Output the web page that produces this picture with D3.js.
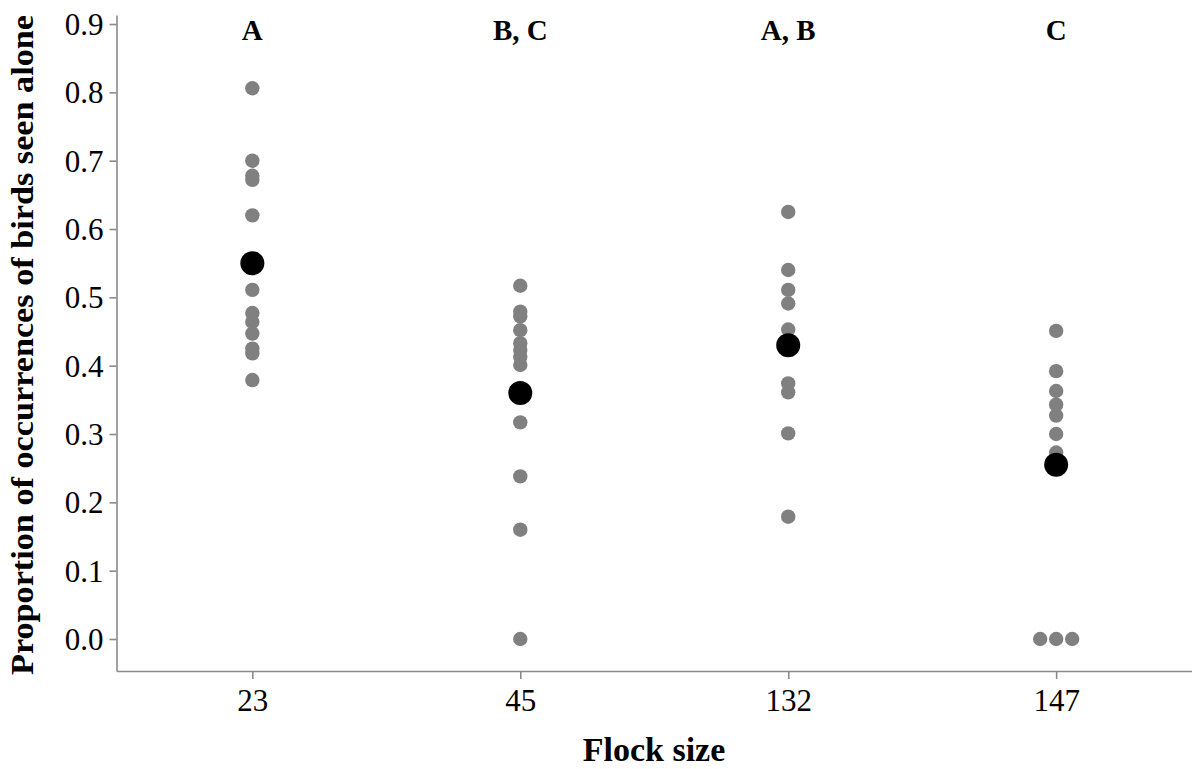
<!DOCTYPE html>
<html>
<head>
<meta charset="utf-8">
<script src="https://cdn.jsdelivr.net/npm/d3@7"></script>
<style>
  body { margin: 0; background: #fff; }
  svg { display: block; }
  .axis path, .axis line { stroke: #8a8a8a; stroke-width: 1.6; }
  .axis text { font-family: "Liberation Serif", serif; font-size: 31px; fill: #000; }
  .letter { font-family: "Liberation Serif", serif; font-size: 29px; font-weight: bold; }
  .title { font-family: "Liberation Serif", serif; font-weight: bold; }
</style>
</head>
<body>
<div class="graphic"></div>
<script>
// flock sizes on the x axis
const flocks = ["23", "45", "132", "147"];
// significance letters above each flock
const letters = ["A", "B, C", "A, B", "C"];
// proportion seen alone, one value per observation
const obs23 = [0.806, 0.700, 0.678, 0.672, 0.620, 0.511, 0.477, 0.464, 0.447, 0.425, 0.418, 0.379];
const obs45 = [0.517, 0.479, 0.472, 0.452, 0.433, 0.423, 0.413, 0.401, 0.317, 0.238, 0.160, 0.0];
const obs132 = [0.625, 0.540, 0.511, 0.491, 0.453, 0.374, 0.361, 0.301, 0.179];
const obs147 = [0.451, 0.392, 0.363, 0.343, 0.327, 0.300, 0.273, 0.0, 0.0, 0.0];
// group means (black dots)
const means = [0.550, 0.360, 0.430, 0.255];
const yTicks = [0, 0.1, 0.2, 0.3, 0.4, 0.5, 0.6, 0.7, 0.8, 0.9];

const width = 1192, height = 769;
const $graphic = d3.select('.graphic');

function setupChart() {
    var groups = [obs23, obs45, obs132, obs147];

    var svg = $graphic.append('svg')
        .attr('width', width)
        .attr('height', height);

    var x = d3.scalePoint()
        .domain(flocks)
        .range([116.5, 1192])
        .padding(0.507);

    var y = d3.scaleLinear()
        .domain([-0.0468, 0.9132])
        .range([671, 15]);

    // y axis
    var yAxis = svg.append('g')
        .attr('class', 'axis')
        .attr('transform', 'translate(116.5,0)')
        .call(d3.axisLeft(y).tickValues(yTicks).tickFormat(d3.format('.1f')).tickSize(7).tickSizeOuter(0).tickPadding(6));
    yAxis.selectAll('text').attr('dy', '0.34em');

    // x axis
    var xAxis = svg.append('g')
        .attr('class', 'axis')
        .attr('transform', 'translate(0,671)')
        .call(d3.axisBottom(x).tickSize(8).tickSizeOuter(0).tickPadding(10));
    xAxis.selectAll('text').attr('dy', '0.71em');

    // observations, tied values set side by side
    var pts = [];
    groups.forEach(function(vals, i) {
        var counts = d3.rollup(vals, v => v.length, v => v);
        var seen = new Map();
        vals.forEach(function(v) {
            var n = counts.get(v);
            var k = seen.get(v) || 0;
            seen.set(v, k + 1);
            pts.push({flock: flocks[i], value: v, off: (k - (n - 1) / 2) * 16});
        });
    });

    svg.append('g').selectAll('circle.obs')
        .data(pts)
        .enter()
        .append('circle')
        .attr('class', 'obs')
        .attr('cx', d => x(d.flock) + d.off)
        .attr('cy', d => y(d.value))
        .attr('r', 7.2)
        .attr('fill', '#808080');

    svg.append('g').selectAll('circle.mean')
        .data(means)
        .enter()
        .append('circle')
        .attr('class', 'mean')
        .attr('cx', (d, i) => x(flocks[i]))
        .attr('cy', d => y(d))
        .attr('r', 12)
        .attr('fill', '#000');

    svg.append('g').selectAll('text.letter')
        .data(letters)
        .enter()
        .append('text')
        .attr('class', 'letter')
        .attr('x', (d, i) => x(flocks[i]))
        .attr('y', 40)
        .attr('text-anchor', 'middle')
        .text(d => d);

    svg.append('text')
        .attr('class', 'title')
        .attr('x', 654)
        .attr('y', 761)
        .attr('text-anchor', 'middle')
        .style('font-size', '34px')
        .text('Flock size');

    svg.append('text')
        .attr('class', 'title')
        .attr('transform', 'translate(33,345) rotate(-90)')
        .attr('text-anchor', 'middle')
        .attr('textLength', 660)
        .attr('lengthAdjust', 'spacingAndGlyphs')
        .style('font-size', '31px')
        .text('Proportion of occurrences of birds seen alone');
}

setupChart();
</script>
</body>
</html>
